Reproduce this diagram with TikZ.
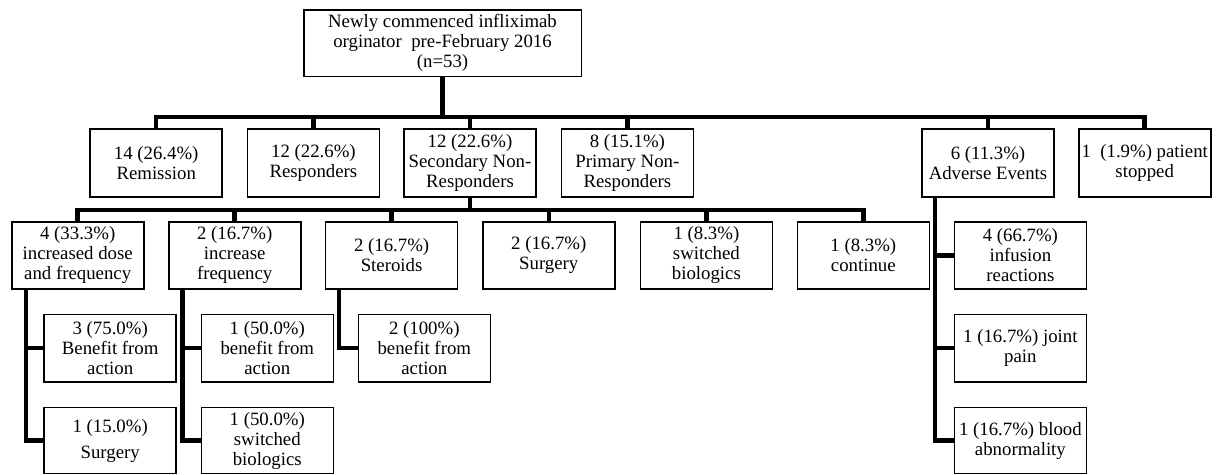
\documentclass[tikz,border=0pt]{standalone}
\usepackage{fontspec}
\setmainfont{Liberation Serif}
\usetikzlibrary{calc}
\begin{document}
\begin{tikzpicture}[x=1pt,y=-1pt,
  box/.style={draw=black, line width=1.6pt, fill=white, minimum width=132pt,
    minimum height=67.5pt, inner sep=0pt, align=center,
    font=\fontsize{18.8}{20}\selectfont},
  lowbox/.style={box, minimum height=66pt},
  conn/.style={draw=black, line width=4.5pt, line join=miter}]
\useasboundingbox[fill=white] (0,0) rectangle (1220,474);

% root
\node[box, minimum width=277.6pt, minimum height=66.7pt] (root) at (442.5,43.3)
  {Newly commenced infliximab\\orginator\ \ pre-February 2016\\(n=53)};

% level 1
\node[box] (rem)  at (156.2,163) {14 (26.4\%)\\Remission};
\node[box] (resp) at (313.4,163) {12 (22.6\%)\\Responders};
\node[box] (snr)  at (470.0,163) {12 (22.6\%)\\Secondary Non-\\Responders};
\node[box] (pnr)  at (627.4,163) {8 (15.1\%)\\Primary Non-\\Responders};
\node[box] (ae)   at (988.0,163) {6 (11.3\%)\\Adverse Events};
\node[box] (stop) at (1144.7,163) {1\ \ (1.9\%) patient\\stopped};

% level 2
\node[box] (idf) at (77.7,255.5)  {4 (33.3\%)\\increased dose\\and frequency};
\node[box] (ifr) at (234.7,255.5) {2 (16.7\%)\\increase\\frequency};
\node[box] (ste) at (391.6,255.5) {2 (16.7\%)\\Steroids};
\node[box] (sur) at (548.8,255.5) {2 (16.7\%)\\Surgery};
\node[box] (swb) at (706.4,255.5) {1 (8.3\%)\\switched\\biologics};
\node[box] (con) at (863.3,255.5) {1 (8.3\%)\\continue};
\node[box] (inf) at (1020.4,255.5) {4 (66.7\%)\\infusion\\reactions};

% level 3
\node[box] (ben1)  at (110.2,348.2) {3 (75.0\%)\\Benefit from\\action};
\node[box] (ben2)  at (267.3,348.2) {1 (50.0\%)\\benefit from\\action};
\node[box] (ben3)  at (424.3,348.2) {2 (100\%)\\benefit from\\action};
\node[box] (joint) at (1020.4,348.2) {1 (16.7\%) joint\\pain};

% level 4
\node[lowbox] (surg2) at (110.2,440.6) {1 (15.0\%)\\[6pt]Surgery};
\node[lowbox] (swb2)  at (267.3,440.6) {1 (50.0\%)\\switched\\biologics};
\node[lowbox] (blood) at (1020.4,440.6) {1 (16.7\%) blood\\abnormality};

% connectors: root to level 1
\coordinate (busA) at ($(root.south)+(0,39.6)$);
\draw[conn] (root.south) -- (busA);
\foreach \n in {rem,resp,snr,pnr,ae,stop} \draw[conn] (\n.north) |- (busA);

% secondary non-responders to level 2
\coordinate (busB) at ($(snr.south)+(0,12.6)$);
\draw[conn] (snr.south) -- (busB);
\foreach \n in {idf,ifr,ste,sur,swb,con} \draw[conn] (\n.north) |- (busB);

% side branches
\coordinate (sA) at ($(idf.south west)+(15,0)$);
\draw[conn] (sA) |- (ben1.west);
\draw[conn] (sA) |- (surg2.west);
\coordinate (sB) at ($(ifr.south west)+(14.4,0)$);
\draw[conn] (sB) |- (ben2.west);
\draw[conn] (sB) |- (swb2.west);
\coordinate (sC) at ($(ste.south west)+(14,0)$);
\draw[conn] (sC) |- (ben3.west);
\coordinate (sD) at ($(ae.south west)+(14,0)$);
\draw[conn] (sD) |- (inf.west);
\draw[conn] (sD) |- (joint.west);
\draw[conn] (sD) |- (blood.west);
\end{tikzpicture}
\end{document}
